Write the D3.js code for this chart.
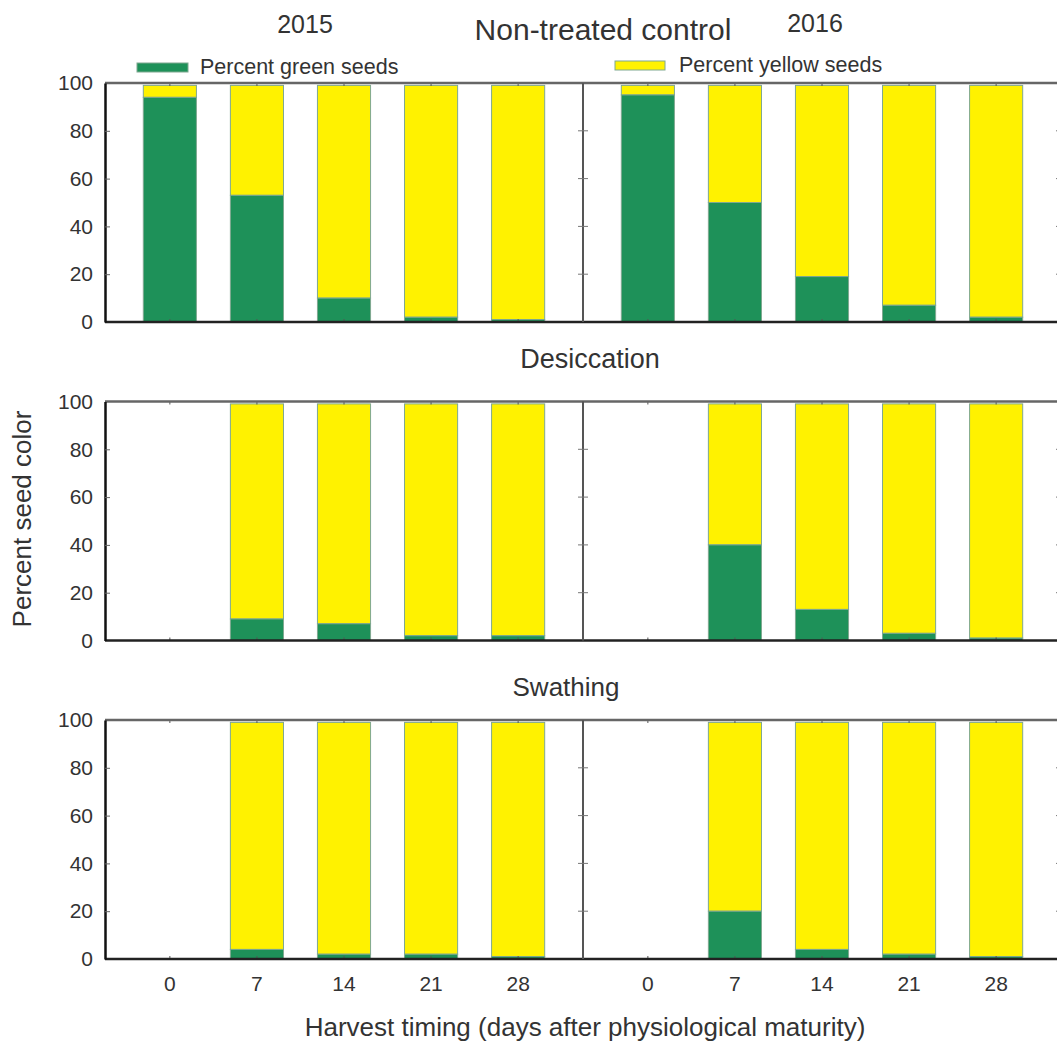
<!DOCTYPE html>
<html>
<head>
	<title>Percent seed color</title>
	<meta charset="utf-8">
	<script src="https://d3js.org/d3.v7.min.js"></script>
	<style>
		body { margin: 0; background: #fff; }
		text { font-family: "Liberation Sans", Arial, sans-serif; fill: #333; }
	</style>
</head>
<body>
	<script type="text/javascript">

		var timings = ["0", "7", "14", "21", "28"]
		var years = ["2015", "2016"]
		var treatments = ["Non-treated control", "Desiccation", "Swathing"]
		var yTicks = [0, 20, 40, 60, 80, 100]

		// percent green / yellow seeds per harvest timing (null = no bar)
		var ntGreen2015 = [94, 53, 10, 2, 1]
		var ntYellow2015 = [5, 46, 89, 97, 98]
		var ntGreen2016 = [95, 50, 19, 7, 2]
		var ntYellow2016 = [4, 49, 80, 92, 97]
		var desGreen2015 = [null, 9, 7, 2, 2]
		var desYellow2015 = [null, 90, 92, 97, 97]
		var desGreen2016 = [null, 40, 13, 3, 1]
		var desYellow2016 = [null, 59, 86, 96, 98]
		var swaGreen2015 = [null, 4, 2, 2, 1]
		var swaYellow2015 = [null, 95, 97, 97, 98]
		var swaGreen2016 = [null, 20, 4, 2, 1]
		var swaYellow2016 = [null, 79, 95, 97, 98]

		var greens = [[ntGreen2015, ntGreen2016], [desGreen2015, desGreen2016], [swaGreen2015, swaGreen2016]]
		var yellows = [[ntYellow2015, ntYellow2016], [desYellow2015, desYellow2016], [swaYellow2015, swaYellow2016]]

		var greenCol = "#1e9159", yellowCol = "#fff200", barStroke = "#7fa890"

		var svg = d3.select("body").append("svg")
			.attr("width", 1057)
			.attr("height", 1048)

		var left = 105, panelW = 478, panelH = 239
		var panelTops = [83, 401.5, 720]
		var titleX = [603, 590, 566]
		var titleY = [40, 368, 696]
		var titleSize = ["30px", "27px", "26px"]

		// one x scale per year panel
		var xScales = years.map(function (yr, c) {
			return d3.scaleBand().domain(timings)
				.range([left + c * panelW, left + (c + 1) * panelW])
				.paddingInner(0.39).paddingOuter(0.44)
		})

		treatments.forEach(function (tr, r) {
			var top = panelTops[r], bottom = top + panelH
			var y = d3.scaleLinear().domain([0, 100]).range([bottom, top])
			var g = svg.append("g")

			g.append("text")
				.attr("x", titleX[r]).attr("y", titleY[r])
				.attr("text-anchor", "middle")
				.style("font-size", titleSize[r])
				.text(tr)

			years.forEach(function (yr, c) {
				var x = xScales[c]
				var gd = greens[r][c], yd = yellows[r][c]
				var rows = timings.map(function (t, i) { return { t: t, g: gd[i], yl: yd[i] } })
					.filter(function (d) { return d.g != null })

				g.selectAll(".yb" + c).data(rows).enter().append("rect")
					.attr("x", function (d) { return x(d.t) })
					.attr("width", x.bandwidth())
					.attr("y", function (d) { return y(d.g + d.yl) })
					.attr("height", function (d) { return y(d.g) - y(d.g + d.yl) })
					.attr("fill", yellowCol)
					.attr("stroke", barStroke).attr("stroke-width", 1)

				g.selectAll(".gb" + c).data(rows).enter().append("rect")
					.attr("x", function (d) { return x(d.t) })
					.attr("width", x.bandwidth())
					.attr("y", function (d) { return y(d.g) })
					.attr("height", function (d) { return y(0) - y(d.g) })
					.attr("fill", greenCol)
					.attr("stroke", barStroke).attr("stroke-width", 1)

				// small inward ticks at top and bottom
				g.selectAll(".xt" + c).data(timings).enter().append("line")
					.attr("x1", function (d) { return x(d) + x.bandwidth() / 2 })
					.attr("x2", function (d) { return x(d) + x.bandwidth() / 2 })
					.attr("y1", bottom).attr("y2", bottom - 3)
					.attr("stroke", "#555")
				g.selectAll(".xtt" + c).data(timings).enter().append("line")
					.attr("x1", function (d) { return x(d) + x.bandwidth() / 2 })
					.attr("x2", function (d) { return x(d) + x.bandwidth() / 2 })
					.attr("y1", top).attr("y2", top + 3)
					.attr("stroke", "#555")

				if (r == 2) {
					var xa = svg.append("g")
						.attr("transform", "translate(0," + bottom + ")")
						.call(d3.axisBottom(x).tickSize(0).tickPadding(17))
					xa.select(".domain").remove()
					xa.selectAll("text").style("font-size", "21px").attr("fill", "#333")
				}
			})

			// frame
			g.append("line").attr("x1", left).attr("x2", left + 2 * panelW)
				.attr("y1", top).attr("y2", top).attr("stroke", "#666").attr("stroke-width", 2.5)
			g.append("line").attr("x1", left).attr("x2", left + 2 * panelW)
				.attr("y1", bottom).attr("y2", bottom).attr("stroke", "#222").attr("stroke-width", 2.5)
			g.append("line").attr("x1", left + panelW).attr("x2", left + panelW)
				.attr("y1", top).attr("y2", bottom).attr("stroke", "#555").attr("stroke-width", 2)
			g.append("line").attr("x1", left + 2 * panelW).attr("x2", left + 2 * panelW)
				.attr("y1", top).attr("y2", bottom).attr("stroke", "#555").attr("stroke-width", 2)

			// y axis on the left panel
			var ya = g.append("g")
				.attr("transform", "translate(" + left + ",0)")
				.call(d3.axisLeft(y).tickValues(yTicks).tickSizeInner(-5).tickSizeOuter(0).tickPadding(12))
			ya.select(".domain").attr("stroke", "#111").attr("stroke-width", 2.5)
			ya.selectAll(".tick line").attr("stroke", "#666")
			ya.selectAll(".tick").filter(function (d) { return d == 0 || d == 100 }).select("line").remove()
			ya.selectAll("text").style("font-size", "21px").attr("fill", "#333")

			// ticks across the divider and on the right edge
			var inner = yTicks.slice(1, -1)
			g.selectAll(".dt").data(inner).enter().append("line")
				.attr("x1", left + panelW - 5).attr("x2", left + panelW + 5)
				.attr("y1", function (d) { return y(d) }).attr("y2", function (d) { return y(d) })
				.attr("stroke", "#777")
			g.selectAll(".rt").data(inner).enter().append("line")
				.attr("x1", left + 2 * panelW - 5).attr("x2", left + 2 * panelW)
				.attr("y1", function (d) { return y(d) }).attr("y2", function (d) { return y(d) })
				.attr("stroke", "#777")
		})

		// year labels
		svg.append("text").attr("x", 305).attr("y", 33).attr("text-anchor", "middle")
			.style("font-size", "25px").text(years[0])
		svg.append("text").attr("x", 815).attr("y", 32).attr("text-anchor", "middle")
			.style("font-size", "25px").text(years[1])

		// legend
		svg.append("rect").attr("x", 137).attr("y", 63).attr("width", 51).attr("height", 9)
			.attr("fill", greenCol).attr("stroke", barStroke)
		svg.append("text").attr("x", 200).attr("y", 74).style("font-size", "21.5px").text("Percent green seeds")
		svg.append("rect").attr("x", 615).attr("y", 61).attr("width", 50).attr("height", 9)
			.attr("fill", yellowCol).attr("stroke", barStroke)
		svg.append("text").attr("x", 679).attr("y", 72).style("font-size", "21.5px").text("Percent yellow seeds")

		// axis titles
		svg.append("text")
			.attr("transform", "translate(31,519) rotate(-90)")
			.attr("text-anchor", "middle")
			.style("font-size", "26px")
			.text("Percent seed color")
		svg.append("text").attr("x", 585).attr("y", 1036).attr("text-anchor", "middle")
			.style("font-size", "26px")
			.text("Harvest timing (days after physiological maturity)")

	</script>
</body>
</html>
